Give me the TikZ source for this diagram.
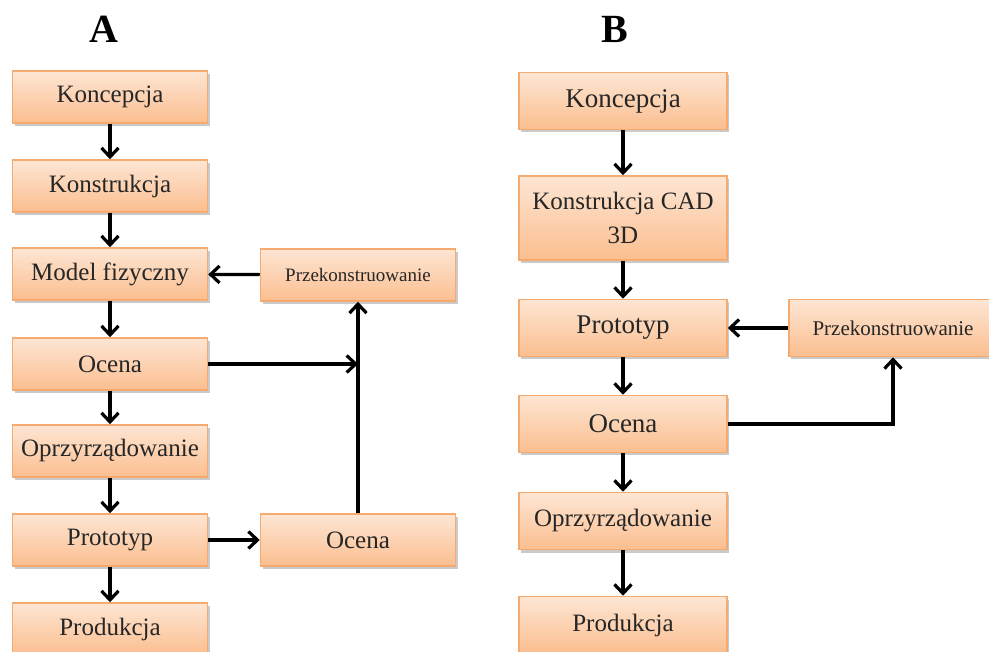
\documentclass[tikz,border=0pt]{standalone}
\usepackage{fontspec}
\setmainfont{Liberation Serif}
\usetikzlibrary{arrows.meta}
\usetikzlibrary{shadows}
\usetikzlibrary{positioning}
\definecolor{boxtop}{HTML}{FDE6D4}
\definecolor{boxbot}{HTML}{FBBE8F}
\definecolor{boxline}{HTML}{F5AA70}

\begin{document}
\begin{tikzpicture}[x=1pt, y=-1pt,
      stage/.style={rectangle, draw=boxline, line width=1.5pt, top color=boxtop, bottom color=boxbot,
          drop shadow={shadow xshift=2pt, shadow yshift=-3pt, fill=black!35, opacity=0.6},
          minimum width=195pt, minimum height=52pt, inner sep=0pt, text=black!85,
          font=\fontsize{25}{30}\selectfont},
          big stage/.style={stage, minimum width=208pt, minimum height=57pt,
          font=\fontsize{27}{32}\selectfont},
          mid stage/.style={big stage, font=\fontsize{25}{34}\selectfont},
          redo stage/.style={stage, font=\fontsize{19}{24}\selectfont},
      flow/.style={-{Straight Barb[length=9pt, width=17pt]}, line width=3.2pt, black},
      title/.style={font=\fontsize{40}{44}\selectfont\bfseries},
      ]
        \useasboundingbox (0,0) rectangle (989,652);

        \node[title] (A) at (104,29) {A};
        \node[title] (B) at (615,29) {B};

        % A
        \node[stage] (a-1) at (110, 97) {Koncepcja};
        \node[stage] (a-2) at (110,186) {Konstrukcja};
        \node[stage] (a-3) at (110,274) {Model fizyczny};
        \node[stage] (a-4) at (110,364) {Ocena};
        \node[stage] (a-5) at (110,451) {Oprzyrządowanie};
        \node[stage] (a-6) at (110,540) {Prototyp};
        \node[stage] (a-7) at (110,629) {Produkcja};

        \node[redo stage] (a-r) at (358,275) {Przekonstruowanie};
        \node[stage]      (a-o) at (358,540) {Ocena};

        \foreach \source/\target in {1/2,2/3,3/4,4/5,5/6,6/7}
          \draw[flow] (a-\source) -- (a-\target);

        \draw[flow] (a-r) -- (a-3);
        \draw[flow] (a-6) -- (a-o);
        \draw[flow] (a-o) -- (a-r);
        \draw[flow] (a-4) -- (a-4 -| a-o);

        % B
        \node[big stage] (b-1) at (623,101) {Koncepcja};
        \node[mid stage, minimum height=84pt, align=center] (b-2) at (623,218) {Konstrukcja CAD\\3D};
        \node[big stage] (b-3) at (623,328) {Prototyp};
        \node[big stage] (b-4) at (623,424) {Ocena};
        \node[mid stage] (b-5) at (623,521) {Oprzyrządowanie};
        \node[mid stage] (b-6) at (623,625) {Produkcja};

        \node[big stage, font=\fontsize{21}{26}\selectfont] (b-r) at (893,328) {Przekonstruowanie};

        \foreach \source/\target in {1/2,2/3,3/4,4/5,5/6}
          \draw[flow] (b-\source) -- (b-\target);

        \draw[flow] (b-r) -- (b-3);
        \draw[flow] (b-4) -| (b-r);

\end{tikzpicture}
\end{document}
